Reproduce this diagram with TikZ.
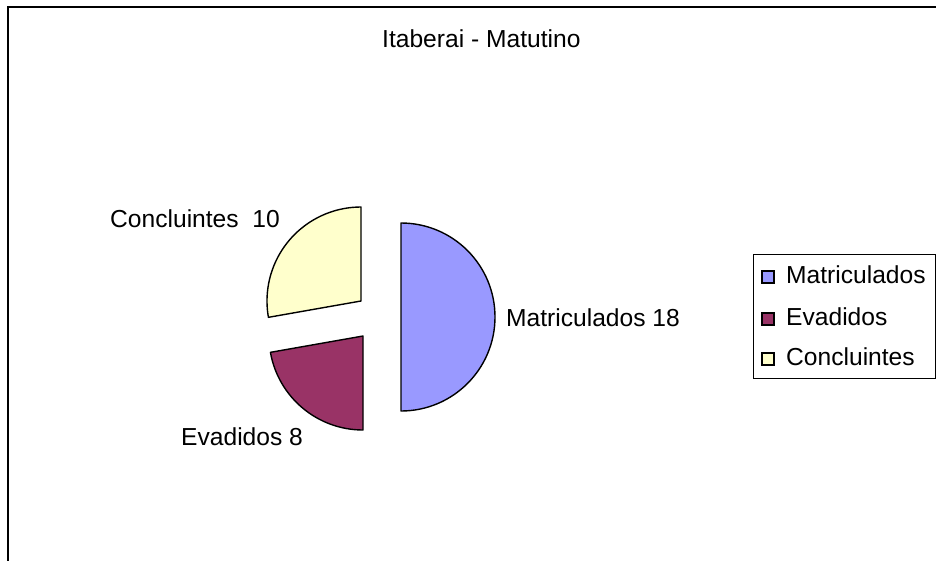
\documentclass[tikz,border=0pt]{standalone}
\usepackage{fontspec}
\setmainfont{Liberation Sans}
\usepackage{tikz}
\definecolor{matcol}{RGB}{153,153,255}
\definecolor{evacol}{RGB}{153,51,102}
\definecolor{concol}{RGB}{255,255,204}

\begin{document}
\begin{tikzpicture}[x=1pt, y=-1pt,
  slice/.style={draw=black, line width=1.4pt, line join=round},
  key/.style={draw=black, line width=1.3pt},
  every node/.style={font=\fontsize{24.6}{28}\selectfont, inner sep=0pt}]
\useasboundingbox (0,0) rectangle (936,560);
\clip (0,0) rectangle (936,560);
\begin {scope}
  \fill [white] (0,0) rectangle (936,560);
  \draw [line width=2.2pt] (8,570) -- (8,7) -- (950,7);
  % pie slices, pulled apart
  \filldraw [slice, fill=matcol] (401,317) -- ++(-90:94) arc [start angle=-90, end angle=90, radius=94] -- cycle;
  \filldraw [slice, fill=evacol] (363,336) -- ++(90:94) arc [start angle=90, end angle=170, radius=94] -- cycle;
  \filldraw [slice, fill=concol] (361,301) -- ++(170:94) arc [start angle=170, end angle=270, radius=94] -- cycle;
  \draw  (382,47) node (title) [anchor=base west] {Itaberai - Matutino};
  \draw  (506,326) node (matlabel) [anchor=base west] {Matriculados 18};
  \draw  (181,445) node (evalabel) [anchor=base west] {Evadidos 8};
  \draw  (110,227) node (conlabel) [anchor=base west] {Concluintes\ \ 10};
  % legend
  \draw [line width=1pt] (753,254) rectangle (935,378);
  \draw [key, fill=matcol] (762,271) rectangle (774,283);
  \draw [key, fill=evacol] (762,313) rectangle (774,325);
  \draw [key, fill=concol] (762,353) rectangle (774,365);
  \draw  (786,283) node (matkey) [anchor=base west] {Matriculados};
  \draw  (786,325) node (evakey) [anchor=base west] {Evadidos};
  \draw  (786,365) node (conkey) [anchor=base west] {Concluintes};
\end {scope}
\end{tikzpicture}
\end{document}
